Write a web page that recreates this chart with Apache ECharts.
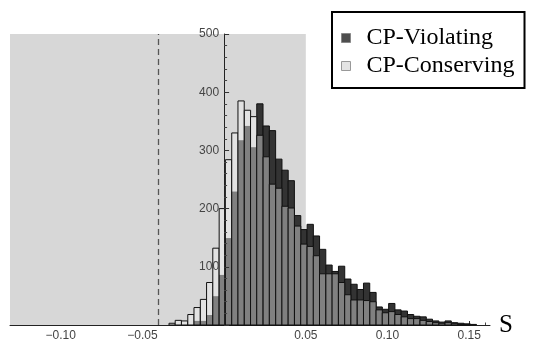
<!DOCTYPE html>
<html>
<head>
<meta charset="utf-8">
<script src="https://cdn.jsdelivr.net/npm/echarts@6/dist/echarts.min.js"></script>
<style>
html,body{margin:0;padding:0;background:#fff;}
#chart{width:538px;height:349px;}
</style>
</head>
<body>
<div id="chart"></div>
<script>
// ---- data ----
const binCenters = [-0.0318,-0.0280,-0.0242,-0.0203,-0.0165,-0.0126,-0.0088,-0.0050,-0.0011,0.0027,
  0.0066,0.0104,0.0143,0.0181,0.0219,0.0258,0.0296,0.0335,0.0373,0.0411,
  0.0450,0.0488,0.0527,0.0565,0.0603,0.0642,0.0680,0.0719,0.0757,0.0795,
  0.0834,0.0872,0.0911,0.0949,0.0987,0.1026,0.1064,0.1103,0.1141,0.1179,
  0.1218,0.1256,0.1295,0.1333,0.1371,0.1410,0.1448,0.1487,0.1525];
const binWidth = 0.00384;
const cpViolating = [0,0,0,0,7,7,17,49,86,149,
  229,317,342,305,380,342,334,285,266,248,
  188,164,173,153,130,103,92,101,79,70,
  61,72,56,31,27,37,26,24,18,15,
  14,10,7,5,7,4,3,2,1];
const cpConserving = [3,8,7,18,30,44,73,132,200,284,
  330,385,369,358,326,289,242,235,204,201,
  170,139,135,119,88,88,88,73,52,43,
  43,42,40,26,21,23,18,14,11,11,
  8,6,4,3,4,2,1,1,0];
const seriesNames = ['CP-Violating','CP-Conserving'];
const xMajorTicks = [-0.10,-0.05,0.05,0.10,0.15];
const yTickLabels = [100,200,300,400,500];
const shadedRegion = [-0.131, 0.05, 500]; // x from, x to, y top
const cutValue = -0.04;
const xMin = -0.131, xMax = 0.1627, yMax = 500;

const xMinorTicks = [];
for (let i = -13; i <= 16; i++) { if (i % 5 !== 0) xMinorTicks.push(+(i*0.01).toFixed(2)); }

function rectFor(api, c, lo, hi) {
  const p0 = api.coord([c - binWidth/2, lo]);
  const p1 = api.coord([c + binWidth/2, hi]);
  return {x: p0[0], y: p1[1], width: p1[0]-p0[0], height: p0[1]-p1[1]};
}
const fmtX = v => (v < 0 ? '\u2212' : '') + Math.abs(v).toFixed(2);
const gridLeft = 10;

const chart = echarts.init(document.getElementById('chart'), null, {renderer:'canvas'});
chart.setOption({
  animation: false,
  grid: {left: gridLeft, right: 48, top: 34, bottom: 24, containLabel: false, outerBoundsMode: 'none'},
  legend: {
    left: 332, top: 12, orient: 'vertical',
    backgroundColor: '#fff', borderColor: '#000', borderWidth: 2,
    padding: [14, 10, 10, 9], itemGap: 4, itemWidth: 9, itemHeight: 9,
    textStyle: {fontFamily: 'Liberation Serif', fontSize: 24, color: '#000', padding: [0,0,0,11]},
    data: [
      {name: seriesNames[0], icon: 'rect', itemStyle: {color: '#4e4e4e', borderColor: '#888', borderWidth: 1}},
      {name: seriesNames[1], icon: 'rect', itemStyle: {color: '#e4e4e4', borderColor: '#999', borderWidth: 1}}
    ]
  },
  xAxis: [{
    type: 'value', min: xMin, max: xMax,
    name: 'S', nameLocation: 'end', nameGap: 9,
    nameTextStyle: {fontFamily: 'Liberation Serif', fontSize: 25, color: '#000', verticalAlign: 'middle', padding: [0,0,8,0]},
    axisLine: {show: true, onZero: false, lineStyle: {color: '#222', width: 1}},
    axisTick: {show: true, inside: true, length: 4, customValues: xMajorTicks, lineStyle: {color: '#333'}},
    axisLabel: {show: true, customValues: xMajorTicks, formatter: fmtX, margin: 5,
      fontFamily: 'Liberation Sans', fontSize: 12, color: '#444'},
    splitLine: {show: false}
  }, {
    type: 'value', min: xMin, max: xMax, position: 'bottom',
    axisLine: {show: false, onZero: false},
    axisTick: {show: true, inside: true, length: 2.5, customValues: xMinorTicks, lineStyle: {color: '#444'}},
    axisLabel: {show: false},
    splitLine: {show: false}
  }],
  yAxis: {
    type: 'value', min: 0, max: yMax, interval: 100, position: 'left', offset: 0,
    axisLine: {show: true, onZero: false, lineStyle: {color: '#222', width: 1}},
    axisTick: {show: true, inside: true, length: 5, lineStyle: {color: '#333'}},
    minorTick: {show: true, splitNumber: 5, length: 3, lineStyle: {color: '#444'}},
    axisLabel: {show: true, margin: 5, fontFamily: 'Liberation Sans', fontSize: 12, color: '#444',
      formatter: v => (yTickLabels.indexOf(v) >= 0 ? String(v) : '')},
    splitLine: {show: false}
  },
  series: [{
    type: 'custom', name: 'shade', z: 1, silent: true,
    encode: {x: [0,1], y: 2},
    data: [shadedRegion],
    renderItem: function (params, api) {
      const p0 = api.coord([api.value(0), 0]);
      const p1 = api.coord([api.value(1), api.value(2)]);
      return {type: 'rect', shape: {x: p0[0], y: p1[1], width: p1[0]-p0[0], height: p0[1]-p1[1]},
        style: {fill: '#d7d7d7'}};
    },
    markLine: {
      silent: true, symbol: 'none', label: {show: false},
      lineStyle: {type: [6, 4], color: '#555', width: 1.3},
      data: [{xAxis: cutValue}]
    }
  }, {
    type: 'custom', name: seriesNames[0], z: 2,
    encode: {x: 0, y: 1},
    data: binCenters.map((c, i) => [c, cpViolating[i]]),
    renderItem: function (params, api) {
      const c = api.value(0), v = api.value(1);
      if (!v) return null;
      return {type: 'rect', shape: rectFor(api, c, 0, v),
        style: {fill: '#333333', stroke: '#111', lineWidth: 1}};
    }
  }, {
    type: 'custom', name: seriesNames[1], z: 3,
    encode: {x: 0, y: 1},
    data: binCenters.map((c, i) => [c, cpConserving[i], cpViolating[i]]),
    renderItem: function (params, api) {
      const c = api.value(0), hl = api.value(1), hd = api.value(2);
      if (!hl) return null;
      const children = [];
      const m = Math.min(hl, hd);
      if (m > 0) children.push({type: 'rect', shape: rectFor(api, c, 0, m), style: {fill: '#808080'}});
      if (hl > hd) children.push({type: 'rect', shape: rectFor(api, c, hd, hl), style: {fill: '#e2e2e2'}});
      children.push({type: 'rect', shape: rectFor(api, c, 0, hl), style: {fill: null, stroke: '#111', lineWidth: 1}});
      return {type: 'group', children: children};
    }
  }]
});
// place the y axis at x = 0 using the x axis scale
const zeroPx = chart.convertToPixel({xAxisIndex: 0}, 0);
chart.setOption({yAxis: {offset: gridLeft - zeroPx, z: 10}});
</script>
</body>
</html>
